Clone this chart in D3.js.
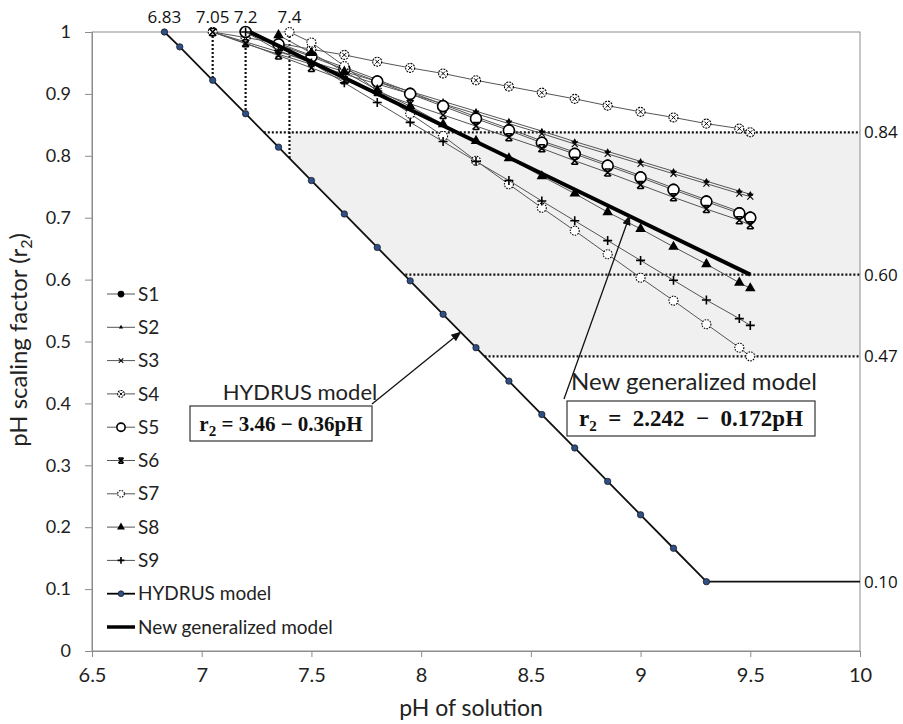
<!DOCTYPE html>
<html>
<head>
<meta charset="utf-8">
<script src="https://cdn.jsdelivr.net/npm/d3@7"></script>
<style>
  body { margin: 0; background: #fff; }
  svg { display: block; }
</style>
</head>
<body>
<div id="chart"></div>
<script>
// pH scaling factor (r2) against pH of solution

// Axis ticks
var xTicks = [6.5, 7, 7.5, 8, 8.5, 9, 9.5, 10];
var yTicks = [0, 0.1, 0.2, 0.3, 0.4, 0.5, 0.6, 0.7, 0.8, 0.9, 1];

// pH steps used by the measured series
var phFrom705 = [7.05, 7.2, 7.35, 7.5, 7.65, 7.8, 7.95, 8.1, 8.25, 8.4, 8.55, 8.7, 8.85, 9.0, 9.15, 9.3, 9.45, 9.5];
var phFrom72 = [7.2, 7.35, 7.5, 7.65, 7.8, 7.95, 8.1, 8.25, 8.4, 8.55, 8.7, 8.85, 9.0, 9.15, 9.3, 9.45, 9.5];
var phFrom735 = [7.35, 7.5, 7.65, 7.8, 7.95, 8.1, 8.25, 8.4, 8.55, 8.7, 8.85, 9.0, 9.15, 9.3, 9.45, 9.5];
var phFrom74 = [7.4, 7.5, 7.65, 7.8, 7.95, 8.1, 8.25, 8.4, 8.55, 8.7, 8.85, 9.0, 9.15, 9.3, 9.45, 9.5];

// r2 values of each soil
var s1R = [1.0, 0.982, 0.962, 0.943, 0.923, 0.903, 0.883, 0.863, 0.844, 0.824, 0.806, 0.787, 0.768, 0.748, 0.729, 0.71, 0.703];
var s2R = [1.0, 0.984, 0.968, 0.952, 0.936, 0.920, 0.904, 0.888, 0.872, 0.856, 0.840, 0.823, 0.807, 0.791, 0.775, 0.759, 0.743, 0.738];
var s3R = [1.0, 0.981, 0.964, 0.948, 0.932, 0.916, 0.900, 0.884, 0.868, 0.852, 0.836, 0.819, 0.803, 0.787, 0.771, 0.755, 0.739, 0.734];
var s4R = [1.0, 0.991, 0.982, 0.972, 0.963, 0.952, 0.942, 0.933, 0.922, 0.912, 0.902, 0.892, 0.881, 0.871, 0.862, 0.852, 0.844, 0.838];
var s5R = [1.0, 0.98, 0.96, 0.94, 0.92, 0.90, 0.88, 0.86, 0.841, 0.821, 0.803, 0.784, 0.765, 0.745, 0.726, 0.707, 0.70];
var s6R = [1.0, 0.982, 0.962, 0.942, 0.922, 0.903, 0.884, 0.866, 0.848, 0.830, 0.812, 0.792, 0.773, 0.753, 0.733, 0.714, 0.696, 0.688];
var s7R = [1.0, 0.983, 0.945, 0.905, 0.868, 0.832, 0.792, 0.754, 0.716, 0.679, 0.641, 0.603, 0.566, 0.528, 0.49, 0.476];
var s8R = [0.995, 0.966, 0.936, 0.906, 0.88, 0.851, 0.824, 0.796, 0.767, 0.739, 0.709, 0.682, 0.653, 0.625, 0.595, 0.586];
var s9R = [1.0, 0.97, 0.95, 0.918, 0.886, 0.854, 0.823, 0.791, 0.76, 0.727, 0.695, 0.663, 0.631, 0.599, 0.567, 0.537, 0.526];

// HYDRUS model points
var hydrusPH = [6.83, 6.9, 7.05, 7.2, 7.35, 7.5, 7.65, 7.8, 7.95, 8.1, 8.25, 8.4, 8.55, 8.7, 8.85, 9.0, 9.15, 9.3, 10];
var hydrusR = [1.0, 0.976, 0.922, 0.868, 0.814, 0.76, 0.706, 0.652, 0.598, 0.544, 0.49, 0.436, 0.382, 0.328, 0.274, 0.22, 0.166, 0.112, 0.112];

// New generalized model end points
var modelPH = [7.22, 9.5];
var modelR = [1.0, 0.608];

// Guide lines and their labels
var topLabels = ["6.83", "7.05", "7.2", "7.4"];
var topLabelPH = [6.83, 7.05, 7.2, 7.4];
var vGuidePH = [7.05, 7.2, 7.4];
var vGuideR = [0.922, 0.868, 0.796];
var hGuideR = [0.838, 0.608, 0.476];
var hGuidePH = [7.283, 7.928, 8.289];
var hGuideLabels = ["0.84", "0.60", "0.47"];
var floorLabel = "0.10";

// Shaded band
var shadePH = [7.4, 10, 10, 8.289, 7.4];
var shadeR = [0.838, 0.838, 0.476, 0.476, 0.796];

// Where the two callout arrows touch their lines
var hydrusArrowPH = 8.18, hydrusArrowR = 0.515;
var modelArrowPH = 8.95, modelArrowR = 0.703;

var seriesNames = ["S1", "S2", "S3", "S4", "S5", "S6", "S7", "S8", "S9"];
var seriesPH = [phFrom72, phFrom705, phFrom705, phFrom705, phFrom72, phFrom705, phFrom74, phFrom735, phFrom72];
var seriesR = [s1R, s2R, s3R, s4R, s5R, s6R, s7R, s8R, s9R];
var seriesMarker = ["dot", "smallTri", "smallX", "crossCircle", "ring", "star", "dashCircle", "tri", "plus"];

// Establish svg container
var svgWidth = 903;
var svgHeight = 724;
var margin = {top: 32, right: 43, bottom: 73, left: 92};
var chartWidth = svgWidth - margin.left - margin.right;
var chartHeight = svgHeight - margin.top - margin.bottom;

var svg = d3.select("#chart").append("svg")
    .attr("width", svgWidth)
    .attr("height", svgHeight);

svg.append("rect")
    .attr("width", svgWidth)
    .attr("height", svgHeight)
    .attr("fill", "#fff");

svg.append("defs").append("marker")
    .attr("id", "arrow")
    .attr("viewBox", "0 0 10 10")
    .attr("refX", 9).attr("refY", 5)
    .attr("markerWidth", 8).attr("markerHeight", 8)
    .attr("orient", "auto-start-reverse")
    .append("path")
    .attr("d", "M0,1L10,5L0,9z")
    .attr("fill", "#111");

var chartGroup = svg.append("g")
    .attr("transform", `translate(${margin.left}, ${margin.top})`);

var xScale = d3.scaleLinear().domain([6.5, 10]).range([0, chartWidth]);
var yScale = d3.scaleLinear().domain([0, 1]).range([chartHeight, 0]);

var labelFont = "Lato, 'Open Sans', sans-serif";
var smallFont = "'Open Sans', 'Noto Sans', sans-serif";

// Shaded band
chartGroup.append("path")
    .datum(d3.zip(shadePH, shadeR))
    .attr("d", d3.line().x(d => xScale(d[0])).y(d => yScale(d[1])))
    .attr("fill", "#f0f0f0");

// Plot frame
chartGroup.append("rect")
    .attr("width", chartWidth)
    .attr("height", chartHeight)
    .attr("fill", "none")
    .attr("stroke", "#8c8c8c")
    .attr("stroke-width", 1);

// Axes
var xAxis = d3.axisBottom(xScale).tickValues(xTicks).tickSize(6).tickPadding(11)
    .tickFormat(d3.format("~g"));
var yAxis = d3.axisLeft(yScale).tickValues(yTicks).tickSize(7).tickPadding(14)
    .tickFormat(d3.format("~g"));

var xg = chartGroup.append("g")
    .attr("transform", `translate(0, ${chartHeight})`)
    .call(xAxis);
var yg = chartGroup.append("g").call(yAxis);

[xg, yg].forEach(function(g) {
    g.select(".domain").attr("stroke", "#8c8c8c");
    g.selectAll(".tick line").attr("stroke", "#8c8c8c");
    g.selectAll(".tick text").attr("fill", "#222").attr("font-family", labelFont);
});
xg.selectAll(".tick text").attr("font-size", "20px");
yg.selectAll(".tick text").attr("font-size", "18px");

// Dotted guide lines
chartGroup.selectAll(".vguide")
    .data(vGuidePH)
    .enter()
    .append("line")
    .attr("x1", d => xScale(d))
    .attr("x2", d => xScale(d))
    .attr("y1", yScale(1))
    .attr("y2", (d, i) => yScale(vGuideR[i]))
    .attr("stroke", "#111")
    .attr("stroke-width", 2.2)
    .attr("stroke-dasharray", "2,2");

chartGroup.selectAll(".hguide")
    .data(hGuideR)
    .enter()
    .append("line")
    .attr("x1", (d, i) => xScale(hGuidePH[i]))
    .attr("x2", chartWidth)
    .attr("y1", d => yScale(d))
    .attr("y2", d => yScale(d))
    .attr("stroke", "#111")
    .attr("stroke-width", 2.2)
    .attr("stroke-dasharray", "2,2");

// Top and right value labels
chartGroup.selectAll(".toplabel")
    .data(topLabels)
    .enter()
    .append("text")
    .attr("x", (d, i) => xScale(topLabelPH[i]))
    .attr("y", -9)
    .attr("text-anchor", "middle")
    .attr("font-family", smallFont)
    .attr("font-size", "17px")
    .attr("fill", "#111")
    .text(d => d);

chartGroup.selectAll(".rightlabel")
    .data(hGuideLabels.concat([floorLabel]))
    .enter()
    .append("text")
    .attr("x", chartWidth + 4)
    .attr("y", (d, i) => yScale(hGuideR.concat([hydrusR[hydrusR.length - 1]])[i]))
    .attr("dy", "0.35em")
    .attr("font-family", smallFont)
    .attr("font-size", "17px")
    .attr("fill", "#111")
    .text(d => d);

// Marker drawing
function drawMarker(g, type, k) {
    if (type === "dot") {
        g.append("circle").attr("r", 4.5 * k).attr("fill", "#000");
    } else if (type === "smallTri") {
        g.append("path").attr("d", d3.symbol(d3.symbolTriangle, 14 * k * k)()).attr("fill", "#000");
    } else if (type === "smallX") {
        g.append("path").attr("d", `M${-3*k},${-3*k}L${3*k},${3*k}M${-3*k},${3*k}L${3*k},${-3*k}`)
            .attr("stroke", "#000").attr("stroke-width", 1.1);
    } else if (type === "crossCircle") {
        g.append("circle").attr("r", 4.5 * k).attr("fill", "#fff").attr("stroke", "#000").attr("stroke-width", 1.1)
            .attr("stroke-dasharray", "2,1");
        g.append("path").attr("d", `M${-2*k},${-2*k}L${2*k},${2*k}M${-2*k},${2*k}L${2*k},${-2*k}`)
            .attr("stroke", "#000").attr("stroke-width", 1);
    } else if (type === "ring") {
        g.append("circle").attr("r", 5.5 * k).attr("fill", "#fff").attr("stroke", "#000").attr("stroke-width", 1.6);
    } else if (type === "star") {
        g.append("path").attr("d", `M${-3.5*k},${-3.5*k}L${3.5*k},${3.5*k}M${-3.5*k},${3.5*k}L${3.5*k},${-3.5*k}M${-3*k},${-3.5*k}H${3*k}M${-3*k},${3.5*k}H${3*k}`)
            .attr("stroke", "#000").attr("stroke-width", 1.5);
    } else if (type === "dashCircle") {
        g.append("circle").attr("r", 4.5 * k).attr("fill", "#fff").attr("stroke", "#000").attr("stroke-width", 1.1)
            .attr("stroke-dasharray", "1.5,1.2");
    } else if (type === "tri") {
        g.append("path").attr("d", d3.symbol(d3.symbolTriangle, 48 * k * k)()).attr("fill", "#000");
    } else if (type === "plus") {
        g.append("path").attr("d", `M${-4.5*k},0H${4.5*k}M0,${-4.5*k}V${4.5*k}`)
            .attr("stroke", "#000").attr("stroke-width", 1.6);
    } else if (type === "hydrus") {
        g.append("circle").attr("r", 3.2 * k).attr("fill", "#2f4f86").attr("stroke", "#111").attr("stroke-width", 0.7);
    }
}

var line = d3.line().x(d => xScale(d[0])).y(d => yScale(d[1]));

// Measured series S1..S9
seriesNames.forEach(function(name, i) {
    var pts = d3.zip(seriesPH[i], seriesR[i]);
    var g = chartGroup.append("g").attr("class", "series " + name);
    g.append("path")
        .datum(pts)
        .attr("d", line)
        .attr("fill", "none")
        .attr("stroke", "#555")
        .attr("stroke-width", 1);
    g.selectAll(".pt")
        .data(pts)
        .enter()
        .append("g")
        .attr("transform", d => `translate(${xScale(d[0])}, ${yScale(d[1])})`)
        .each(function() { drawMarker(d3.select(this), seriesMarker[i], 1); });
});

// HYDRUS model
var hydrusPts = d3.zip(hydrusPH, hydrusR);
chartGroup.append("path")
    .datum(hydrusPts)
    .attr("d", line)
    .attr("fill", "none")
    .attr("stroke", "#111")
    .attr("stroke-width", 1.8);
chartGroup.selectAll(".hpt")
    .data(hydrusPts.slice(0, hydrusPts.length - 1))
    .enter()
    .append("g")
    .attr("transform", d => `translate(${xScale(d[0])}, ${yScale(d[1])})`)
    .each(function() { drawMarker(d3.select(this), "hydrus", 1); });

// New generalized model
chartGroup.append("path")
    .datum(d3.zip(modelPH, modelR))
    .attr("d", line)
    .attr("fill", "none")
    .attr("stroke", "#000")
    .attr("stroke-width", 4);

// Legend
var legendNames = seriesNames.concat(["HYDRUS model", "New generalized model"]);
var legendMarkers = seriesMarker.concat(["hydrus", "none"]);
var legend = svg.append("g").attr("transform", "translate(107, 294)");
legendNames.forEach(function(name, i) {
    var row = legend.append("g").attr("transform", `translate(0, ${i * 33.3})`);
    row.append("line")
        .attr("x1", 0).attr("x2", 28)
        .attr("stroke", i < 9 ? "#555" : "#000")
        .attr("stroke-width", i < 9 ? 1 : (i === 9 ? 1.8 : 3.5));
    var m = row.append("g").attr("transform", "translate(14, 0)");
    drawMarker(m, legendMarkers[i], i < 9 ? 0.75 : 0.9);
    row.append("text")
        .attr("x", 31)
        .attr("dy", "0.35em")
        .attr("font-family", labelFont)
        .attr("font-size", "19px")
        .attr("fill", "#222")
        .text(name);
});

// Callout annotations
function callout(textX, textY, label, labelSize, box, eqRight, eqSize, from, to) {
    svg.append("text")
        .attr("x", textX)
        .attr("y", textY)
        .attr("text-anchor", "middle")
        .attr("font-family", labelFont)
        .attr("font-size", labelSize)
        .attr("fill", "#222")
        .text(label);
    svg.append("rect")
        .attr("x", box[0]).attr("y", box[1])
        .attr("width", box[2]).attr("height", box[3])
        .attr("fill", "#fff")
        .attr("stroke", "#333")
        .attr("stroke-width", 1.2);
    var t = svg.append("text")
        .attr("x", box[0] + box[2] / 2)
        .attr("y", box[1] + box[3] / 2 + 7)
        .attr("text-anchor", "middle")
        .style("white-space", "pre")
        .attr("font-family", "'Liberation Serif', 'DejaVu Serif', serif")
        .attr("font-weight", "bold")
        .attr("font-size", eqSize)
        .attr("fill", "#111");
    t.append("tspan").text("r");
    t.append("tspan").attr("font-size", "15px").attr("dy", 5).text("2");
    t.append("tspan").attr("dy", -5).text(eqRight);
    svg.append("line")
        .attr("x1", from[0]).attr("y1", from[1])
        .attr("x2", to[0]).attr("y2", to[1])
        .attr("stroke", "#111")
        .attr("stroke-width", 1.3)
        .attr("marker-end", "url(#arrow)");
}

var hArrowTip = [margin.left + xScale(hydrusArrowPH), margin.top + yScale(hydrusArrowR)];
var mArrowTip = [margin.left + xScale(modelArrowPH), margin.top + yScale(modelArrowR)];

callout(300, 400, "HYDRUS model", "22px", [190, 406, 182, 35],
    " = 3.46 \u2212 0.36pH", "21px", [372, 404], hArrowTip);
callout(694, 390, "New generalized model", "24px", [567, 401, 248, 35],
    "  =  2.242  \u2212  0.172pH", "23px", [564, 399], mArrowTip);

// Axis titles
svg.append("text")
    .attr("x", margin.left + chartWidth / 2 - 5)
    .attr("y", 716)
    .attr("text-anchor", "middle")
    .attr("font-family", labelFont)
    .attr("font-size", "23px")
    .attr("fill", "#222")
    .text("pH of solution");

var yTitle = svg.append("text")
    .attr("transform", "translate(27, 340) rotate(-90)")
    .attr("text-anchor", "middle")
    .attr("font-family", labelFont)
    .attr("font-size", "24px")
    .attr("fill", "#222");
yTitle.append("tspan").text("pH scaling factor (r");
yTitle.append("tspan").attr("font-size", "16px").attr("dy", 5).text("2");
yTitle.append("tspan").attr("dy", -5).text(")");
</script>
</body>
</html>
